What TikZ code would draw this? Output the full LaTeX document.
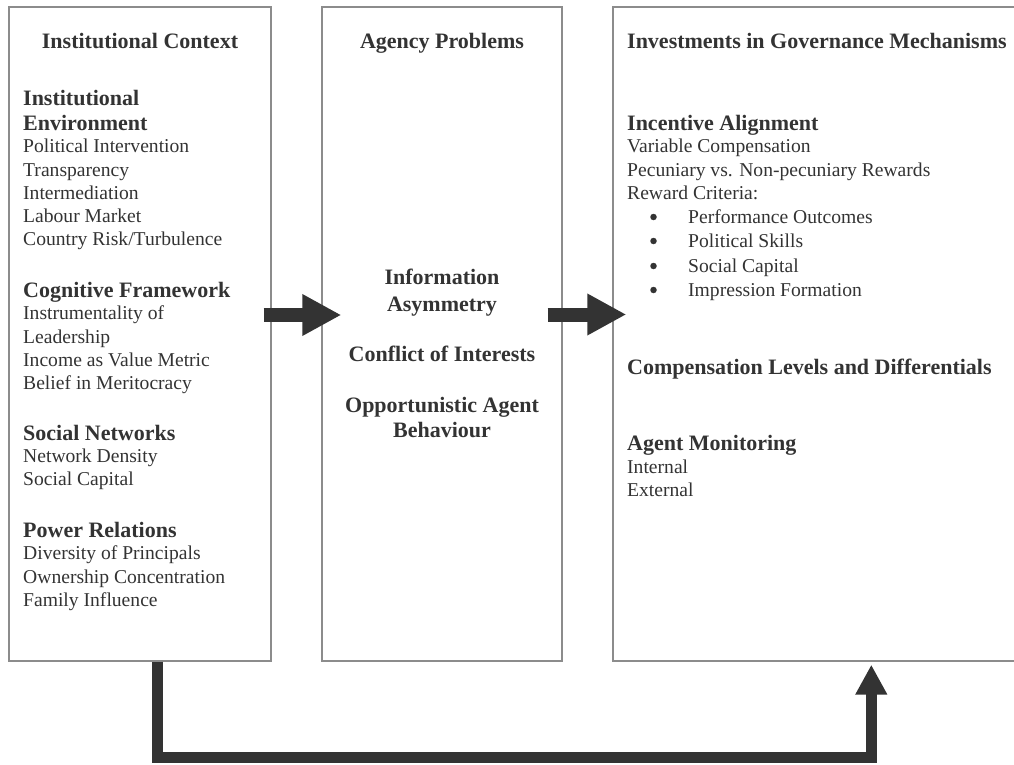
\documentclass[tikz,border=0pt]{standalone}
\usepackage{fontspec}
\setmainfont{Liberation Serif}
\usetikzlibrary{arrows.meta,calc}
\definecolor{ink}{HTML}{333333}
\definecolor{frame}{HTML}{8C8C8C}
\begin{document}
\begin{tikzpicture}[x=1pt,y=-1pt,
  panel/.style={draw=frame,line width=1.4pt,rectangle,inner sep=0pt},
  head/.style={text=ink,font=\fontsize{22pt}{25pt}\selectfont\bfseries,inner sep=0pt},
  item/.style={text=ink,font=\fontsize{19.6pt}{23pt}\selectfont,inner sep=0pt},
  lh/.style={head,anchor=base west},
  li/.style={item,anchor=base west},
  ch/.style={head,anchor=base},
  dot/.style={circle,fill=ink,inner sep=0pt,minimum size=6.5pt},
  blockarrow/.style={draw=ink,line width=14pt,-{Triangle[length=39pt,width=39pt]}},
  feedback/.style={draw=ink,line width=11pt,-{Triangle[length=30pt,width=30pt]}}]
\useasboundingbox (0,0) rectangle (1014,765);
\clip (0,0) rectangle (1014,765);

% the three panels
\node[panel,minimum width=262pt,minimum height=654pt] (L) at (140,334) {};
\node[panel,minimum width=240pt,minimum height=654pt] (M) at (442,334) {};
\node[panel,minimum width=427pt,minimum height=654pt] (R) at (826.5,334) {};

% left panel
\node[ch] (tL) at (140,49) {Institutional Context};
\node[lh] (h1a) at (23,106) {Institutional};
\node[lh] (h1b) at (23,131) {Environment};
\node[li] (a1) at (23,153) {Political Intervention};
\node[li] (a2) at (23,176) {Transparency};
\node[li] (a3) at (23,199) {Intermediation};
\node[li] (a4) at (23,222) {Labour Market};
\node[li] (a5) at (23,245) {Country Risk/Turbulence};
\node[lh] (h2) at (23,297) {Cognitive Framework};
\node[li] (b1) at (23,319) {Instrumentality of};
\node[li] (b2) at (23,343) {Leadership};
\node[li] (b3) at (23,366) {Income as Value Metric};
\node[li] (b4) at (23,389) {Belief in Meritocracy};
\node[lh] (h3) at (23,440) {Social Networks};
\node[li] (c1) at (23,462) {Network Density};
\node[li] (c2) at (23,485) {Social Capital};
\node[lh] (h4) at (23,537) {Power Relations};
\node[li] (d1) at (23,559) {Diversity of Principals};
\node[li] (d2) at (23,583) {Ownership Concentration};
\node[li] (d3) at (23,606) {Family Influence};

% middle panel
\node[ch] (tM) at (442,49) {Agency Problems};
\node[ch] (m1a) at (442,284) {Information};
\node[ch] (m1b) at (442,311) {Asymmetry};
\node[ch] (m2) at (442,361) {Conflict of Interests};
\node[ch] (m3a) at (442,412) {Opportunistic Agent};
\node[ch] (m3b) at (442,437) {Behaviour};

% right panel
\node[lh] (tR) at (627,49) {Investments in Governance Mechanisms};
\node[lh] (r1) at (627,131) {Incentive Alignment};
\node[li] (r1a) at (627,153) {Variable Compensation};
\node[li] (r1b) at (627,176) {Pecuniary vs. Non-pecuniary Rewards};
\node[li] (r1c) at (627,199) {Reward Criteria:};
\foreach \y/\t [count=\i] in {223/Performance Outcomes,247/Political Skills,272/Social Capital,296/Impression Formation}{
  \node[dot] (bul\i) at (653.5,\y-6) {};
  \node[li] (crit\i) at (688,\y) {\t};
}
\node[lh] (r2) at (627,374) {Compensation Levels and Differentials};
\node[lh] (r3) at (627,450) {Agent Monitoring};
\node[li] (r3a) at (627,473) {Internal};
\node[li] (r3b) at (627,496) {External};

% connectors between the panels
\draw[blockarrow] ($(L.east)+(-8,-19)$) -- ($(M.west)+(20,-19)$);
\draw[blockarrow] ($(M.east)+(-15,-19.5)$) -- ($(R.west)+(14,-19.5)$);
\draw[feedback] ($(L.south)+(17.5,0)$) |- ($(R.south west)+(259,96)$) -- ($(R.south west)+(259,3)$);
\end{tikzpicture}
\end{document}
